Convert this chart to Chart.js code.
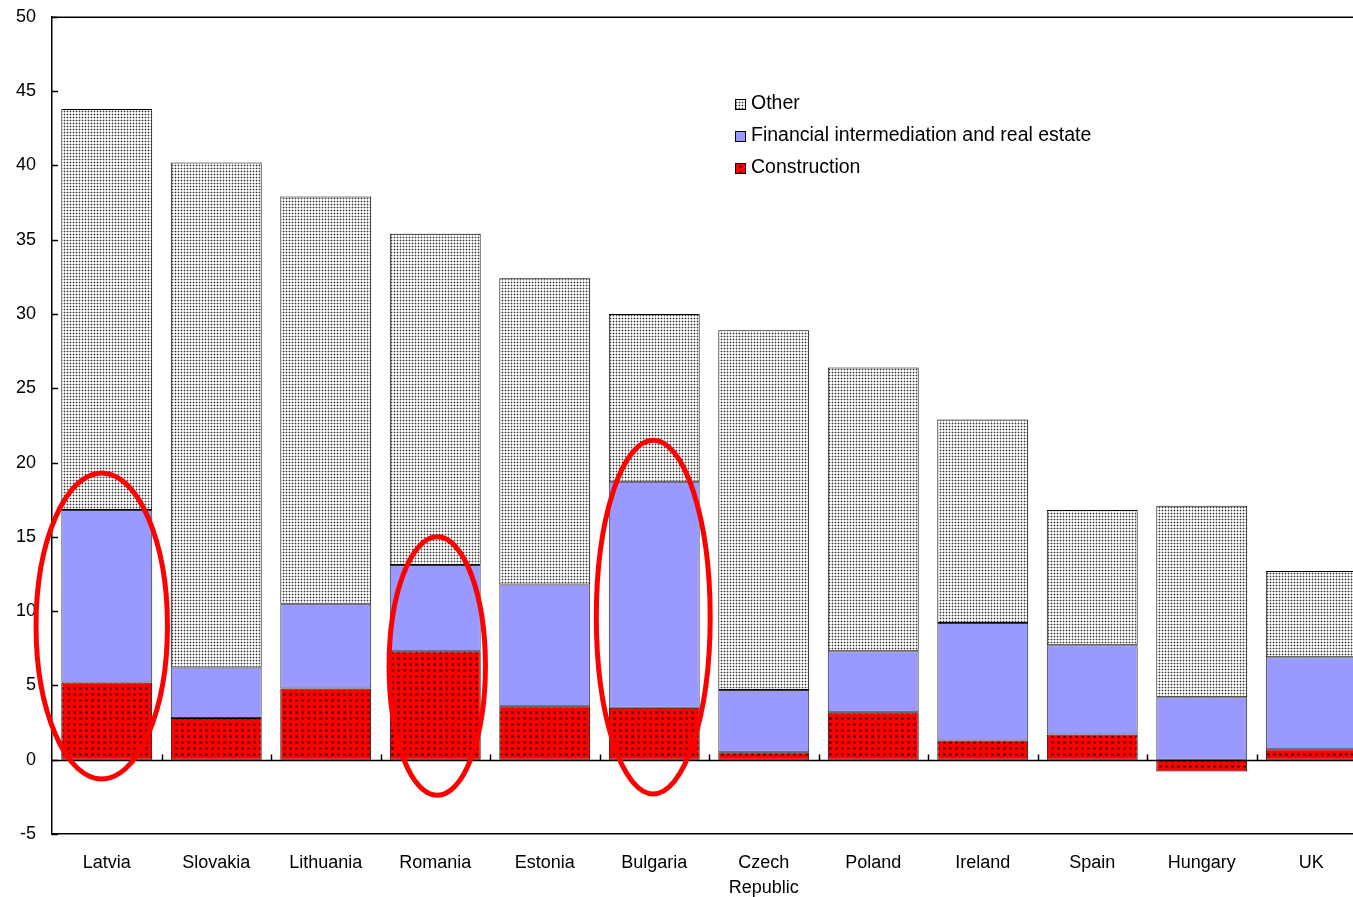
<!DOCTYPE html>
<html>
<head>
    <script src="https://cdn.jsdelivr.net/npm/chart.js@4.4.0/dist/chart.umd.min.js"></script>
    <title>Contribution to growth</title>
    <style>
        html, body { margin: 0; padding: 0; background: #fff; overflow: hidden; }
        #wrap { position: relative; width: 1366px; height: 897px; overflow: hidden; }
        #myChart { position: absolute; left: 0; top: -10px; }
    </style>
</head>
<body>
<div id="wrap">
<canvas id="myChart" width="1366" height="907"></canvas>
</div>

<script>
    // data
    var countries = ['Latvia', 'Slovakia', 'Lithuania', 'Romania', 'Estonia', 'Bulgaria',
                     ['Czech', 'Republic'], 'Poland', 'Ireland', 'Spain', 'Hungary', 'UK'];
    var construction = [5.2, 2.8, 4.8, 7.3, 3.6, 3.5, 0.5, 3.2, 1.3, 1.7, -0.8, 0.7];
    var financial    = [11.6, 3.4, 5.7, 5.8, 8.2, 15.2, 4.2, 4.1, 7.9, 6.0, 4.2, 6.2];
    var other        = [27.0, 34.0, 27.4, 22.3, 20.6, 11.3, 24.2, 19.1, 13.7, 9.1, 12.9, 5.8];
    var yTicks = [-5, 0, 5, 10, 15, 20, 25, 30, 35, 40, 45, 50];

    // red circles drawn on top: category index, centre value, half height (units)
    var circled = [
        { idx: 0, mid: 9.0, half: 10.3, w: 0.60, dx: -5 },
        { idx: 3, mid: 6.3, half: 8.7,  w: 0.44, dx: 2 },
        { idx: 5, mid: 9.6, half: 11.9, w: 0.52, dx: -1 }
    ];

    function makePattern(bg, size, dots) {
        var c = document.createElement('canvas');
        c.width = size; c.height = size;
        var g = c.getContext('2d');
        g.fillStyle = bg;
        g.fillRect(0, 0, size, size);
        dots.forEach(function (d) {
            g.fillStyle = d[4];
            g.fillRect(d[0], d[1], d[2], d[3]);
        });
        return g.createPattern(c, 'repeat');
    }

    var otherFill = makePattern('#ffffff', 3, [
        [0, 1, 3, 1, '#c0c0c0'], [1, 0, 1, 3, '#c0c0c0'], [1, 1, 1, 1, '#303030']
    ]);
    var constrFill = makePattern('#ff0000', 6, [
        [1, 1, 3, 3, '#a00000'], [2, 2, 1, 1, '#000000']
    ]);
    var finFill = '#9999ff';

    var legendItems = [
        { text: 'Other', fill: otherFill },
        { text: 'Financial intermediation and real estate', fill: finFill },
        { text: 'Construction', fill: constrFill }
    ];

    var FONT = 'Liberation Sans, Arial, sans-serif';
    var SHIFT = 10; // canvas is drawn 10px higher than the page

    var extras = {
        id: 'extras',
        afterDatasetsDraw: function (chart) {
            var ctx = chart.ctx;
            var a = chart.chartArea;
            var x = chart.scales.x, y = chart.scales.y;
            ctx.save();
            ctx.strokeStyle = '#000';
            ctx.lineWidth = 1.5;
            // top frame and zero line
            var y0 = Math.round(y.getPixelForValue(0)) + 0.5;
            ctx.beginPath();
            ctx.moveTo(a.left, a.top + 0.5); ctx.lineTo(a.right, a.top + 0.5);
            ctx.moveTo(a.left, y0); ctx.lineTo(a.right, y0);
            ctx.stroke();
            // y ticks, pointing inward
            ctx.beginPath();
            yTicks.forEach(function (v) {
                var py = Math.round(y.getPixelForValue(v)) + 0.5;
                ctx.moveTo(a.left, py); ctx.lineTo(a.left + 6, py);
            });
            // category ticks on the zero line
            var step = x.getPixelForValue(1) - x.getPixelForValue(0);
            for (var i = 1; i < countries.length; i++) {
                var px = Math.round(x.getPixelForValue(i) - step / 2) + 0.5;
                ctx.moveTo(px, y0); ctx.lineTo(px, y0 - 6);
            }
            ctx.stroke();

            // red ellipses
            ctx.strokeStyle = '#ff0000';
            ctx.lineWidth = 5;
            circled.forEach(function (c) {
                var cx = x.getPixelForValue(c.idx) + c.dx;
                var cy = y.getPixelForValue(c.mid);
                var ry = y.getPixelForValue(c.mid - c.half) - cy;
                var rx = step * c.w;
                ctx.beginPath();
                ctx.ellipse(cx, cy, rx, ry, 0, 0, Math.PI * 2);
                ctx.stroke();
            });

            // legend
            ctx.font = '19.5px ' + FONT;
            ctx.textBaseline = 'middle';
            ctx.fillStyle = '#000';
            legendItems.forEach(function (it, k) {
                var ly = 104 + SHIFT + k * 32;
                ctx.fillStyle = it.fill;
                ctx.fillRect(735, ly - 5, 10, 10);
                ctx.strokeStyle = '#000';
                ctx.lineWidth = 1;
                ctx.strokeRect(735.5, ly - 4.5, 10, 10);
                ctx.fillStyle = '#000';
                ctx.fillText(it.text, 751, ly);
            });
            ctx.restore();
        }
    };

    var ctx = document.getElementById('myChart').getContext('2d');
    var myChart = new Chart(ctx, {
        type: 'bar',
        data: {
            labels: countries,
            datasets: [
                { label: 'Construction', data: construction, backgroundColor: constrFill,
                  borderColor: '#000', borderWidth: 1, borderSkipped: false },
                { label: 'Financial intermediation and real estate', data: financial, backgroundColor: finFill,
                  borderColor: '#333', borderWidth: 1, borderSkipped: false },
                { label: 'Other', data: other, backgroundColor: otherFill,
                  borderColor: '#000', borderWidth: 1, borderSkipped: false }
            ]
        },
        options: {
            responsive: false,
            animation: false,
            events: [],
            layout: { padding: { top: 7, right: 0, left: 0, bottom: 0 } },
            datasets: { bar: { categoryPercentage: 1, barPercentage: 0.83 } },
            plugins: {
                legend: { display: false },
                tooltip: { enabled: false },
                title: { display: false }
            },
            scales: {
                x: {
                    stacked: true,
                    offset: true,
                    grid: { display: false },
                    border: { display: true, color: '#000', width: 1.5 },
                    ticks: { color: '#000', padding: 8, maxRotation: 0, autoSkip: false,
                             font: { family: FONT, size: 18, lineHeight: 1.4 } },
                    afterFit: function (s) { s.height = 63; }
                },
                y: {
                    stacked: true,
                    min: -5,
                    max: 50,
                    grid: { display: false, drawTicks: false },
                    border: { display: true, color: '#000', width: 1.5 },
                    ticks: { stepSize: 5, color: '#000', padding: 16,
                             font: { family: FONT, size: 18 } },
                    afterFit: function (s) { s.width = 52; }
                }
            }
        },
        plugins: [extras]
    });
</script>

</body>
</html>
